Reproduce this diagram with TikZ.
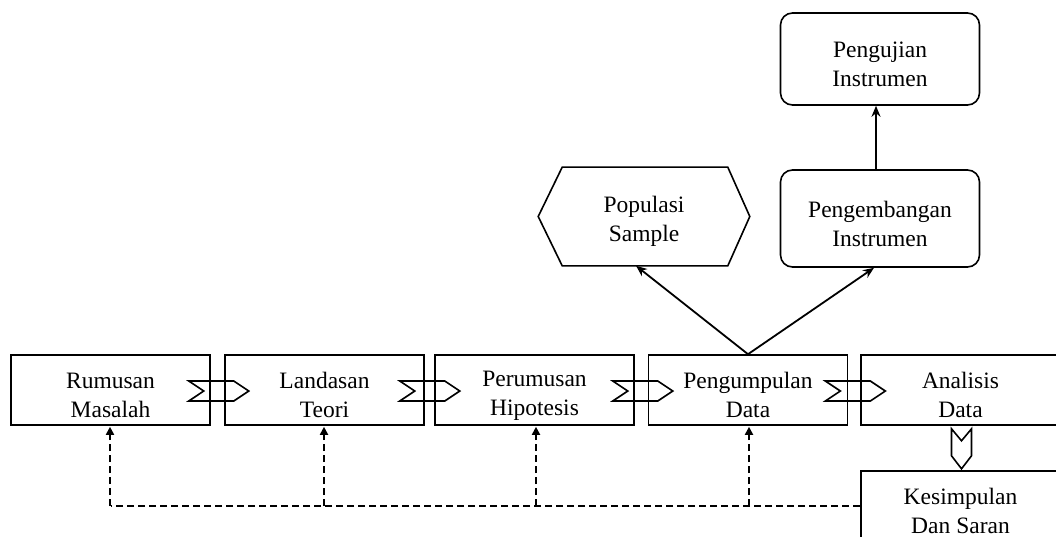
\documentclass[tikz,border=0pt]{standalone}
\usepackage{fontspec}
\setmainfont{Liberation Serif}
\usetikzlibrary{arrows.meta,calc}
\newcommand\mystrut{\rule{0pt}{27pt}}
\begin{document}
\begin{tikzpicture}[x=1pt,y=-1pt,
  lw/.style={line width=1.6pt},
  box/.style={lw,draw,rectangle,minimum width=199pt,minimum height=70pt,inner sep=0pt,align=center,
    font=\fontsize{23.5pt}{29pt}\selectfont},
  rbox/.style={box,rounded corners=12pt,minimum height=95pt},
  arr/.style={line width=1.8pt,-{Stealth[length=11pt,width=9pt]}},
  dsh/.style={line width=1.8pt,dash pattern=on 7pt off 4pt},
  dtip/.style={-{Triangle[length=8pt,width=8pt]}},
  pics/chevr/.style={code={\draw[lw,line join=miter] (0,-10)--(45,-10)--(60,0)--(45,10)--(0,10)--(15,0)--cycle;}},
  pics/chevd/.style={code={\draw[lw,line join=miter] (0,-10)--(27,-10)--(40,0)--(27,10)--(0,10)--(12,0)--cycle;}}
]
\clip (0,0) rectangle (1056,537);
\fill[white] (0,0) rectangle (1056,537);
% main row
\node[box] (b1) at (110.5,390) {\mystrut Rumusan\\Masalah};
\node[box] (b2) at (324.5,390) {\mystrut Landasan\\Teori};
\node[box] (b3) at (534.5,390) {\mystrut Perumusan\\Hipotesis};
\node[box] (b4) at (748,390) {\mystrut Pengumpulan\\Data};
\node[box] (b5) at (960.5,390) {\mystrut Analisis\\Data};
\node[box] (ks) at (960.5,506) {\mystrut Kesimpulan\\Dan Saran};
% upper nodes
\node[box,draw=none,minimum width=210pt,minimum height=97pt] (pop) at (644,216.5) {\mystrut Populasi\\Sample};
\draw[lw] ($(pop.north west)+(24,0)$) -- ($(pop.north east)+(-22,0)$) -- (pop.east)
  -- ($(pop.south east)+(-22,0)$) -- ($(pop.south west)+(24,0)$) -- (pop.west) -- cycle;
\node[rbox,minimum height=97pt] (dev) at (880,218.5) {\mystrut Pengembangan\\Instrumen};
\node[rbox,minimum height=92pt] (test) at (880,59) {\mystrut Pengujian\\Instrumen};
% chevrons
\pic at ($(b1.east)+(-22,1)$) {chevr};
\pic at ($(b2.east)+(-25,1)$) {chevr};
\pic at ($(b3.east)+(-22,1)$) {chevr};
\pic at ($(b4.east)+(-23,1)$) {chevr};
\pic[rotate=-90] at ($(b5.south)+(1,3)$) {chevd};
% arrows
\draw[arr] (b4.north) -- ($(pop.south)+(-8,0)$);
\draw[arr] (b4.north) -- ($(dev.south)+(-6,0)$);
\draw[arr] ($(dev.north)+(-4,0)$) -- ($(test.south)+(-4,0)$);
% dashed feedback
\draw[dsh] (ks.west) -- (b1.south |- ks.west);
\foreach \n/\dx in {b1/-0.5,b2/-0.5,b3/1.5,b4/1}{
  \draw[dsh,dtip] ($(\n.south |- ks.west)+(\dx,0)$) -- ($(\n.south)+(\dx,1)$);
}
\end{tikzpicture}
\end{document}
